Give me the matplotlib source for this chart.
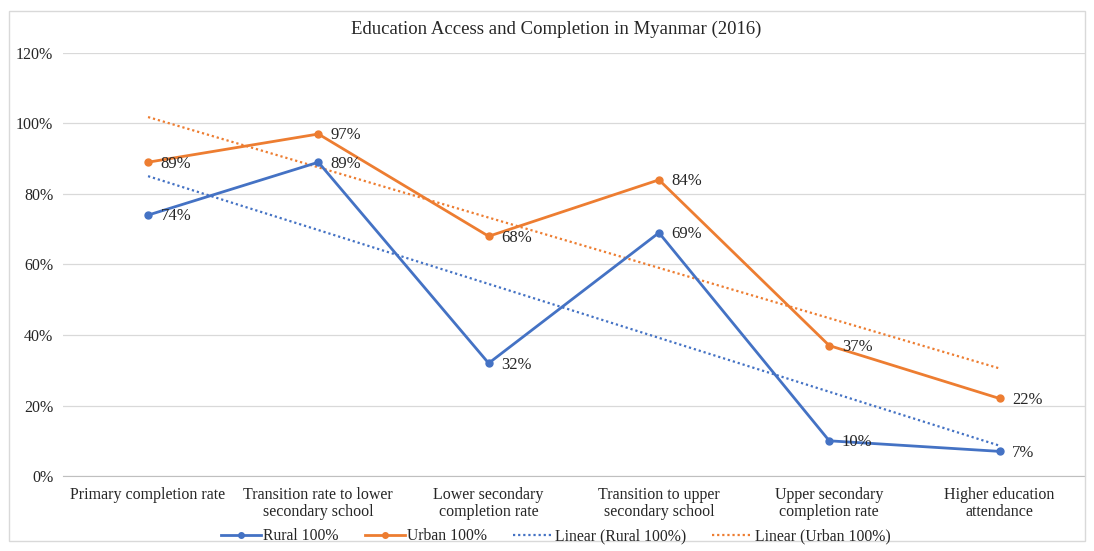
import numpy as np
import matplotlib
matplotlib.use("Agg")
import matplotlib.pyplot as plt
from matplotlib.patches import Rectangle
from matplotlib.ticker import FuncFormatter

categories = ["Primary completion rate", "Transition rate to lower\nsecondary school",
              "Lower secondary\ncompletion rate", "Transition to upper\nsecondary school",
              "Upper secondary\ncompletion rate", "Higher education\nattendance"]
rural = [74, 89, 32, 69, 10, 7]
urban = [89, 97, 68, 84, 37, 22]
yticks = [0, 20, 40, 60, 80, 100, 120]
title = "Education Access and Completion in Myanmar (2016)"

plt.rcParams['font.family'] = ['Liberation Serif', 'DejaVu Serif']
BLUE = "#4472C4"
ORANGE = "#ED7D31"
TXT = "#262626"

fig = plt.figure(figsize=(10.94, 5.51), dpi=100)
ax = fig.add_axes([0.0575, 0.136, 0.934, 0.768])
x = np.arange(len(categories))

ax.plot(x, rural, color=BLUE, lw=2.0, marker='o', ms=5, label="Rural 100%", zorder=4)
ax.plot(x, urban, color=ORANGE, lw=2.0, marker='o', ms=5, label="Urban 100%", zorder=4)
pr = np.polyfit(x, rural, 1)
pu = np.polyfit(x, urban, 1)
ax.plot(x, np.polyval(pr, x), color=BLUE, lw=1.6, ls=(0, (1, 1.3)), label="Linear (Rural 100%)", zorder=3)
ax.plot(x, np.polyval(pu, x), color=ORANGE, lw=1.6, ls=(0, (1, 1.3)), label="Linear (Urban 100%)", zorder=3)

for xi, v in zip(x, rural):
    ax.annotate(f"{v}%", (xi, v), xytext=(9, -1), textcoords='offset points',
                va='center', ha='left', fontsize=12, color=TXT, zorder=5)
for xi, v in zip(x, urban):
    ax.annotate(f"{v}%", (xi, v), xytext=(9, -1), textcoords='offset points',
                va='center', ha='left', fontsize=12, color=TXT, zorder=5)

ax.set_xlim(-0.5, len(categories) - 0.5)
ax.set_ylim(0, 120)
ax.set_yticks(yticks)
ax.yaxis.set_major_formatter(FuncFormatter(lambda v, p: f"{int(v)}%"))
ax.set_xticks(x)
ax.set_xticklabels(categories, fontsize=11.5, color=TXT, linespacing=1.05)
ax.tick_params(axis='y', labelsize=11.5, labelcolor=TXT, length=0, pad=7)
ax.tick_params(axis='x', length=0, pad=8)
ax.grid(axis='y', color='#D9D9D9', lw=0.9)
ax.set_axisbelow(True)
for s in ['top', 'right', 'left']:
    ax.spines[s].set_visible(False)
ax.spines['bottom'].set_color('#BFBFBF')

fig.text(0.508, 0.946, title, ha='center', va='center', fontsize=13.5, color=TXT)

leg = fig.legend(loc='center', bbox_to_anchor=(0.508, 0.027), ncol=4, frameon=False,
                 fontsize=11.3, handlelength=2.55, columnspacing=1.65, handletextpad=0.15,
                 markerscale=0.8)
for t in leg.get_texts():
    t.set_color(TXT)

fig.patches.append(Rectangle((0.008, 0.018), 0.984, 0.962, transform=fig.transFigure,
                             fill=False, edgecolor='#D9D9D9', lw=1.0))
fig.savefig("out.png", dpi=100)
